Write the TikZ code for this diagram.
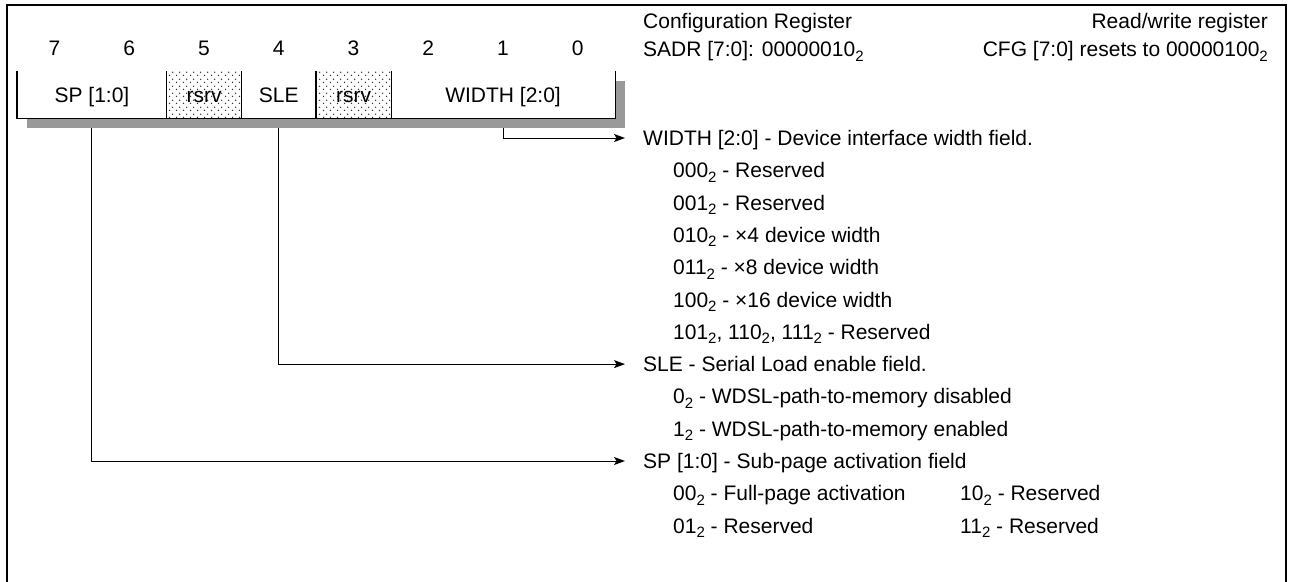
\documentclass[tikz,border=0pt]{standalone}
\usepackage{fontspec}
\setmainfont{Liberation Sans}
\usetikzlibrary{arrows.meta,patterns.meta}
\pgfdeclarepattern{name=rdots, type=uncolored,
  bottom left={\pgfpoint{0pt}{0pt}}, top right={\pgfpoint{7pt}{7pt}},
  tile size={\pgfpoint{7pt}{7pt}},
  code={\pgfpathcircle{\pgfpoint{1.75pt}{1.75pt}}{0.85pt}\pgfpathcircle{\pgfpoint{5.25pt}{5.25pt}}{0.85pt}\pgfusepath{fill}}}
\definecolor{shadowgray}{HTML}{999999}
\newcommand\bsub[1]{\raisebox{-4.5pt}{\fontsize{15}{15}\selectfont #1}}
\begin{document}
\begin{tikzpicture}[x=1pt,y=-1pt,font=\fontsize{21}{25}\selectfont,
  txt/.style={inner sep=0pt,text height=19pt,text depth=4pt},
  lbl/.style={txt,anchor=west},
  head/.style={lbl,inner xsep=18pt},
  field/.style={txt,minimum height=47pt,anchor=north west},
  rsv/.style={field,pattern=rdots,pattern color=black!80},
  conn/.style={line width=1pt,-{Stealth[length=11pt,width=8pt,inset=2.5pt]}},
  regline/.style={line width=1.2pt}]
\useasboundingbox (0,0) rectangle (1289,581);
% outer frame
\draw[line width=1.8pt] (7,585) -- (7,5) -- (1286,5) -- (1286,585);
% shadow and register box
\fill[shadowgray] (27,81) rectangle (625,128);
\fill[white] (17,71) rectangle (615,118);
\node[field,minimum width=149.5pt] (sp) at (17,71) {SP [1:0]};
\node[rsv,minimum width=74.75pt] (r1) at (166.5,71) {rsrv};
\node[field,minimum width=74.75pt] (sle) at (241.25,71) {SLE};
\node[rsv,minimum width=74.75pt] (r2) at (316,71) {rsrv};
\node[field,minimum width=224.25pt] (wf) at (390.75,71) {WIDTH [2:0]};
\draw[regline] (sp.north west) -- (sp.south west) -- (wf.south east) -- (wf.north east);
\draw[regline] (r1.north west) -- (r1.south west);
\draw[regline] (r1.north east) -- (r1.south east);
\draw[regline] (r2.north west) -- (r2.south west);
\draw[regline] (r2.north east) -- (r2.south east);
% bit numbers
\foreach \i in {0,...,7}{
  \node[txt] (b\i) at ({17+74.75*(7-\i)+37.375},48) {\i};
}
% header texts
\node[lbl] (t1) at (643,21) {Configuration Register};
\node[txt,anchor=east] (t2) at (1268,21) {Read/write register};
\node[lbl] (t3) at (643,49) {SADR [7:0]: 00000010\bsub{2}};
\node[txt,anchor=east] (t4) at (1268,49) {CFG [7:0] resets to 00000100\bsub{2}};
% descriptions
\node[head] (hw) at (625,138) {WIDTH [2:0] - Device interface width field.};
\node[lbl] (w1) at (673,170.3) {000\bsub{2} - Reserved};
\node[lbl] (w2) at (673,202.6) {001\bsub{2} - Reserved};
\node[lbl] (w3) at (673,234.9) {010\bsub{2} - ×4 device width};
\node[lbl] (w4) at (673,267.2) {011\bsub{2} - ×8 device width};
\node[lbl] (w5) at (673,299.5) {100\bsub{2} - ×16 device width};
\node[lbl] (w6) at (673,331.8) {101\bsub{2}, 110\bsub{2}, 111\bsub{2} - Reserved};
\node[head] (hs) at (625,364.1) {SLE - Serial Load enable field.};
\node[lbl] (s1) at (673,396.4) {0\bsub{2} - WDSL-path-to-memory disabled};
\node[lbl] (s2) at (673,428.7) {1\bsub{2} - WDSL-path-to-memory enabled};
\node[head] (hp) at (625,461) {SP [1:0] - Sub-page activation field};
\node[lbl] (p1) at (673,493.3) {00\bsub{2} - Full-page activation};
\node[lbl] (p2) at (960,493.3) {10\bsub{2} - Reserved};
\node[lbl] (p3) at (673,525.6) {01\bsub{2} - Reserved};
\node[lbl] (p4) at (960,525.6) {11\bsub{2} - Reserved};
% connectors
\draw[conn] ([yshift=-10pt]wf.south) |- (hw.west);
\draw[conn] ([yshift=-10pt]sle.south) |- (hs.west);
\draw[conn] ([yshift=-10pt]sp.south) |- (hp.west);
\end{tikzpicture}
\end{document}
